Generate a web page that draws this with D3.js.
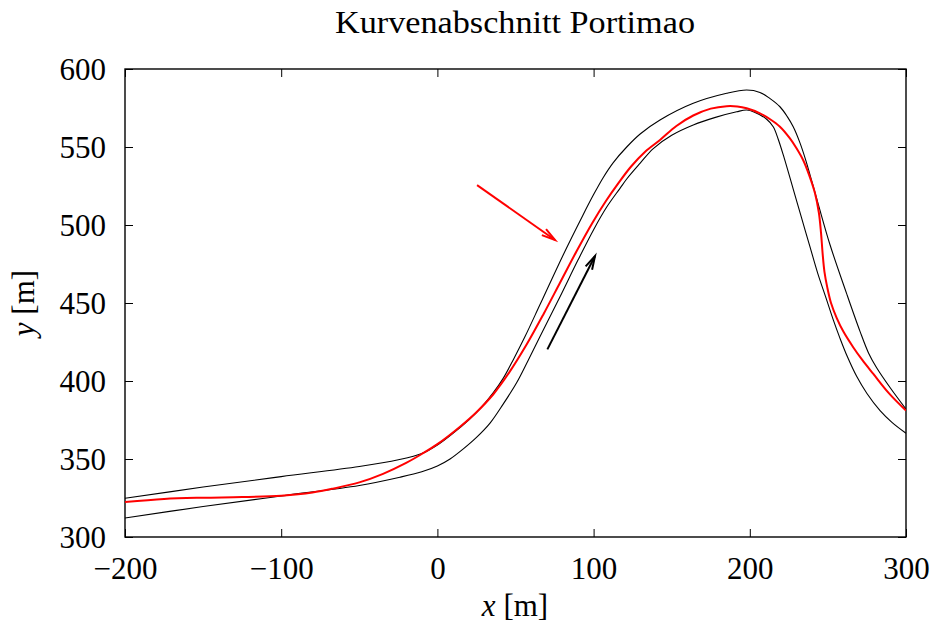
<!DOCTYPE html>
<html>
<head>
<meta charset="utf-8">
<script src="https://cdn.jsdelivr.net/npm/d3@7"></script>
<style>
  html, body { margin: 0; padding: 0; background: #fff; }
  svg text { font-family: "Liberation Serif", "DejaVu Serif", serif; fill: #000; }
</style>
</head>
<body>
<svg id="chart" width="930" height="627"></svg>
<script>
// ---- data (metres) ----
const titleText = "Kurvenabschnitt Portimao";
const xTicks = [-200, -100, 0, 100, 200, 300];
const yTicks = [300, 350, 400, 450, 500, 550, 600];

// outer track boundary (upper / left edge)
const outerX = [-200, -150, -100, -50, -25, -10, 0, 10, 20, 28, 35.8, 42, 49, 56.1, 65.7, 80.6, 93, 100, 106.2, 112.6, 121.2, 130, 142.5, 163.8, 185.2, 198, 206.5, 213, 219.3, 224, 227.8, 232, 236, 243.5, 251.3, 262, 270.5, 276, 281.2, 290, 300];
const outerY = [324.8, 332, 338.7, 345.2, 349.5, 353.5, 359, 366.5, 375, 383, 392.5, 401.5, 414.5, 428.5, 449, 481, 506, 519.5, 530.5, 540, 550, 558.5, 567.3, 578, 584.4, 586.5, 585, 581, 575.8, 569.5, 563, 553, 541, 514.5, 487.5, 456, 432, 418, 408.5, 395.5, 382];

// inner track boundary (lower / right edge)
const innerX = [-200, -150, -100, -50, -24, -10, 0, 8.1, 16, 25.2, 33.7, 42, 50.8, 58, 65.7, 78.5, 90, 100, 108.4, 116.9, 121.2, 129.7, 138.2, 150, 163.8, 178, 191.6, 198, 203, 210.8, 215, 218.2, 222, 227.8, 233, 238.5, 243.5, 249.2, 253.5, 257.7, 262.5, 268.4, 275, 283.4, 291, 300];
const innerY = [312.2, 319.5, 326.3, 333, 338.3, 341.8, 345.5, 350, 356, 364, 373, 385, 399, 413, 428.5, 454, 477.5, 497, 511.5, 523.5, 529.5, 539.5, 549, 557.5, 564.1, 569, 572.6, 573.7, 572.3, 567.8, 563, 555, 543, 523, 505, 486.1, 469, 452, 439, 427.5, 415.5, 403, 392, 381, 373.5, 366.5];

// racing line (red)
const lineX = [-200, -175, -150, -125, -100, -80, -66.8, -50, -34.8, -20, -10, 0, 14.5, 25, 35.8, 46, 57.2, 68, 78.5, 89, 99, 108, 116, 124, 133, 142.5, 153, 163.8, 175, 185.2, 192, 198, 206.5, 213, 219.3, 225.7, 230, 234.2, 238, 241.7, 244.2, 245.6, 246.6, 247.8, 249.6, 252, 255.6, 260, 266.3, 272, 279.1, 289, 300];
const lineY = [322.4, 324.4, 325.2, 325.6, 326.5, 328.5, 331, 335, 340.5, 347.5, 353.2, 359.5, 370.7, 380, 391.5, 405.5, 423.5, 443, 463, 483, 501, 515.5, 527, 537.5, 547, 554.5, 563.5, 570.2, 574.6, 576.2, 576, 574.8, 571.6, 567.8, 563, 555.5, 549, 541.5, 532, 520.5, 508, 495, 482, 470, 460, 450, 440.5, 431.5, 421.5, 413.5, 404.5, 392.2, 381];

// arrows: [x1, y1, x2, y2]
const redArrow = [25.4, 525.6, 75.3, 490.4];
const blackArrow = [70.4, 420.3, 100.9, 480.1];

// ---- layout ----
const svg = d3.select("#chart");
const pLeft = 125, pRight = 906, pTop = 69, pBottom = 537;
const x = d3.scaleLinear().domain([-200, 300]).range([pLeft, pRight]);
const y = d3.scaleLinear().domain([300, 600]).range([pBottom, pTop]);

// title
svg.append("text")
  .attr("x", 515).attr("y", 33)
  .attr("text-anchor", "middle")
  .attr("font-size", 31)
  .attr("textLength", 360).attr("lengthAdjust", "spacingAndGlyphs")
  .text(titleText);

// axes with inward ticks, mirrored
const tickLen = 8;
const fontSize = 31;
const gB = svg.append("g").attr("transform", `translate(0,${pBottom})`)
  .call(d3.axisBottom(x).tickValues(xTicks).tickSizeInner(-tickLen).tickSizeOuter(0).tickPadding(20)
    .tickFormat(d => d < 0 ? "\u2212" + Math.abs(d) : String(d)));
const gT = svg.append("g").attr("transform", `translate(0,${pTop})`)
  .call(d3.axisTop(x).tickValues(xTicks).tickSizeInner(-tickLen).tickSizeOuter(0).tickFormat(""));
const gL = svg.append("g").attr("transform", `translate(${pLeft},0)`)
  .call(d3.axisLeft(y).tickValues(yTicks).tickSizeInner(-tickLen).tickSizeOuter(0).tickPadding(19));
const gR = svg.append("g").attr("transform", `translate(${pRight},0)`)
  .call(d3.axisRight(y).tickValues(yTicks).tickSizeInner(-tickLen).tickSizeOuter(0).tickFormat(""));

[gB, gT, gL, gR].forEach(g => {
  g.select(".domain").remove();
  g.selectAll(".tick line").attr("stroke", "#000").attr("stroke-width", 1);
  g.selectAll("text").attr("font-size", fontSize)
    .attr("font-family", "\"Liberation Serif\", \"DejaVu Serif\", serif").attr("fill", "#000");
});
gB.selectAll(".tick text").attr("dy", "0.71em");
gL.selectAll(".tick text").attr("dy", "0.34em");

// frame
svg.append("rect")
  .attr("x", pLeft).attr("y", pTop)
  .attr("width", pRight - pLeft).attr("height", pBottom - pTop)
  .attr("fill", "none").attr("stroke", "#000").attr("stroke-width", 1.4);

// axis labels
const xl = svg.append("text").attr("x", 515).attr("y", 616).attr("text-anchor", "middle").attr("font-size", fontSize);
xl.append("tspan").attr("font-style", "italic").text("x");
xl.append("tspan").text(" [m]");
const yl = svg.append("text")
  .attr("transform", "translate(34,303) rotate(-90)")
  .attr("text-anchor", "middle").attr("font-size", fontSize);
yl.append("tspan").attr("font-style", "italic").text("y");
yl.append("tspan").text(" [m]");

// curves
svg.append("defs").append("clipPath").attr("id", "clip")
  .append("rect").attr("x", pLeft).attr("y", pTop).attr("width", pRight - pLeft).attr("height", pBottom - pTop);

const line = d3.line().x(d => x(d[0])).y(d => y(d[1])).curve(d3.curveCatmullRom.alpha(0.5));
const plot = svg.append("g").attr("clip-path", "url(#clip)");
plot.append("path").datum(outerX.map((v, i) => [v, outerY[i]]))
  .attr("d", line).attr("fill", "none").attr("stroke", "#000").attr("stroke-width", 1.1);
plot.append("path").datum(innerX.map((v, i) => [v, innerY[i]]))
  .attr("d", line).attr("fill", "none").attr("stroke", "#000").attr("stroke-width", 1.1);
plot.append("path").datum(lineX.map((v, i) => [v, lineY[i]]))
  .attr("d", line).attr("fill", "none").attr("stroke", "#ff0000").attr("stroke-width", 2);

// arrows with open V heads
function drawArrow(a, color) {
  const x1 = x(a[0]), y1 = y(a[1]), x2 = x(a[2]), y2 = y(a[3]);
  const ang = Math.atan2(y2 - y1, x2 - x1);
  const L = 14, h = 15 * Math.PI / 180;
  const p1 = [x2 - L * Math.cos(ang - h), y2 - L * Math.sin(ang - h)];
  const p2 = [x2 - L * Math.cos(ang + h), y2 - L * Math.sin(ang + h)];
  const g = svg.append("g").attr("stroke", color).attr("stroke-width", 2).attr("fill", "none");
  g.append("line").attr("x1", x1).attr("y1", y1).attr("x2", x2).attr("y2", y2);
  g.append("path").attr("d", `M${p1[0]},${p1[1]}L${x2},${y2}L${p2[0]},${p2[1]}`);
}
drawArrow(redArrow, "#ff0000");
drawArrow(blackArrow, "#000");
</script>
</body>
</html>
